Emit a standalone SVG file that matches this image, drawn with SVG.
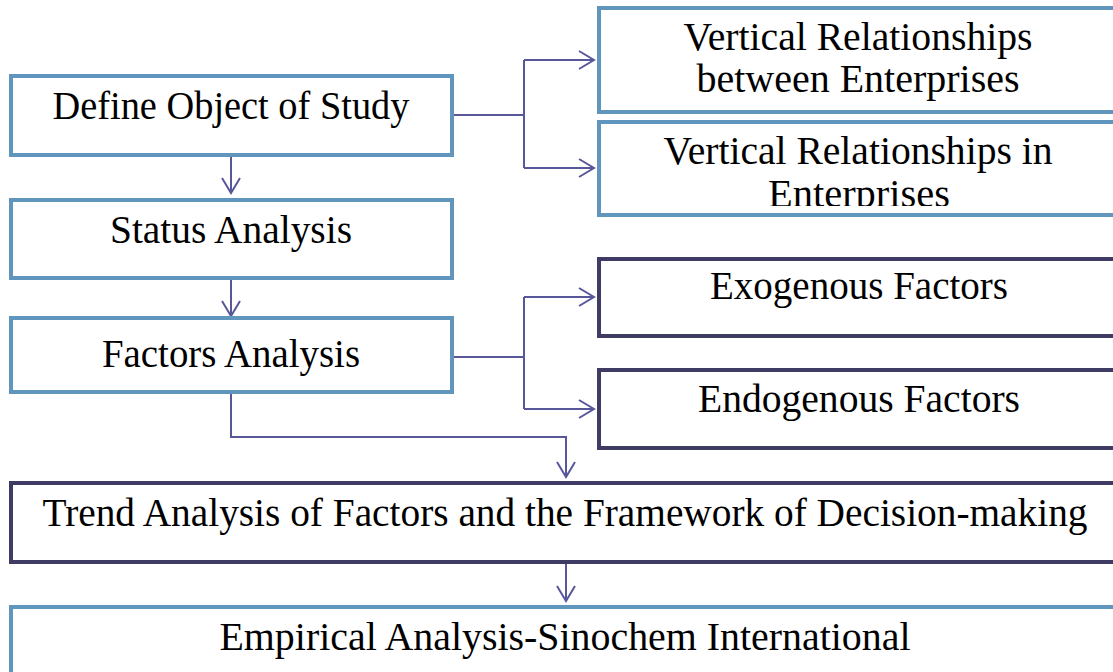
<svg xmlns="http://www.w3.org/2000/svg" width="1113" height="672" viewBox="0 0 1113 672">
<defs>
<style>
.lb{fill:#fff;stroke:#6096bd;stroke-width:4}
.dk{fill:#fff;stroke:#3e3c64;stroke-width:4}
.t{font-family:"Liberation Serif","Times New Roman",serif;font-size:40px;fill:#000;text-anchor:middle}
.c{fill:none;stroke:#58579a;stroke-width:2}
</style>
<marker id="ah" viewBox="0 0 20 20" refX="18" refY="10" markerWidth="20" markerHeight="20" markerUnits="userSpaceOnUse" orient="auto">
<path d="M3,1 L18,10 L3,19" fill="none" stroke="#58579a" stroke-width="2"/>
</marker>
<clipPath id="clipR2"><rect x="599" y="122" width="520" height="84"/></clipPath>
</defs>
<rect width="1113" height="672" fill="#fff"/>
<g id="connectors">
<path class="c" d="M231,157 V193" marker-end="url(#ah)"/>
<path class="c" d="M231,280 V316" marker-end="url(#ah)"/>
<path class="c" d="M453,115 H524 M524,60 V168"/>
<path class="c" d="M524,60 H594" marker-end="url(#ah)"/>
<path class="c" d="M524,168 H594" marker-end="url(#ah)"/>
<path class="c" d="M453,357 H524 M524,297 V409"/>
<path class="c" d="M524,297 H594" marker-end="url(#ah)"/>
<path class="c" d="M524,409 H594" marker-end="url(#ah)"/>
<path class="c" d="M231,394 V437 H566 V477" marker-end="url(#ah)"/>
<path class="c" d="M566,564 V601" marker-end="url(#ah)"/>
</g>
<g id="define">
<rect class="lb" x="11" y="76" width="441" height="79"/>
<text class="t" x="231" y="119" textLength="357" lengthAdjust="spacingAndGlyphs">Define Object of Study</text>
</g>
<g id="status">
<rect class="lb" x="11" y="200" width="441" height="78"/>
<text class="t" x="231" y="243" textLength="242" lengthAdjust="spacingAndGlyphs">Status Analysis</text>
</g>
<g id="factors">
<rect class="lb" x="11" y="318" width="441" height="74"/>
<text class="t" x="231" y="367" textLength="258" lengthAdjust="spacingAndGlyphs">Factors Analysis</text>
</g>
<g id="vr-between">
<rect class="lb" x="599" y="8" width="530" height="104"/>
<text class="t" x="858" y="50" textLength="349" lengthAdjust="spacingAndGlyphs">Vertical Relationships</text>
<text class="t" x="858" y="92" textLength="323" lengthAdjust="spacingAndGlyphs">between Enterprises</text>
</g>
<g id="vr-in">
<rect class="lb" x="599" y="122" width="530" height="93"/>
<text class="t" x="858" y="164" textLength="389" lengthAdjust="spacingAndGlyphs">Vertical Relationships in</text>
<text class="t" x="859" y="207" textLength="182" lengthAdjust="spacingAndGlyphs" clip-path="url(#clipR2)">Enterprises</text>
</g>
<g id="exogenous">
<rect class="dk" x="599" y="259" width="530" height="77"/>
<text class="t" x="859" y="299" textLength="298" lengthAdjust="spacingAndGlyphs">Exogenous Factors</text>
</g>
<g id="endogenous">
<rect class="dk" x="599" y="370" width="530" height="78"/>
<text class="t" x="859" y="412" textLength="322" lengthAdjust="spacingAndGlyphs">Endogenous Factors</text>
</g>
<g id="trend">
<rect class="dk" x="11" y="483" width="1120" height="79"/>
<text class="t" x="565" y="526" textLength="1045" lengthAdjust="spacingAndGlyphs">Trend Analysis of Factors and the Framework of Decision-making</text>
</g>
<g id="empirical">
<rect class="lb" x="11" y="607" width="1120" height="80"/>
<text class="t" x="565" y="650" textLength="691" lengthAdjust="spacingAndGlyphs">Empirical Analysis-Sinochem International</text>
</g>
</svg>
